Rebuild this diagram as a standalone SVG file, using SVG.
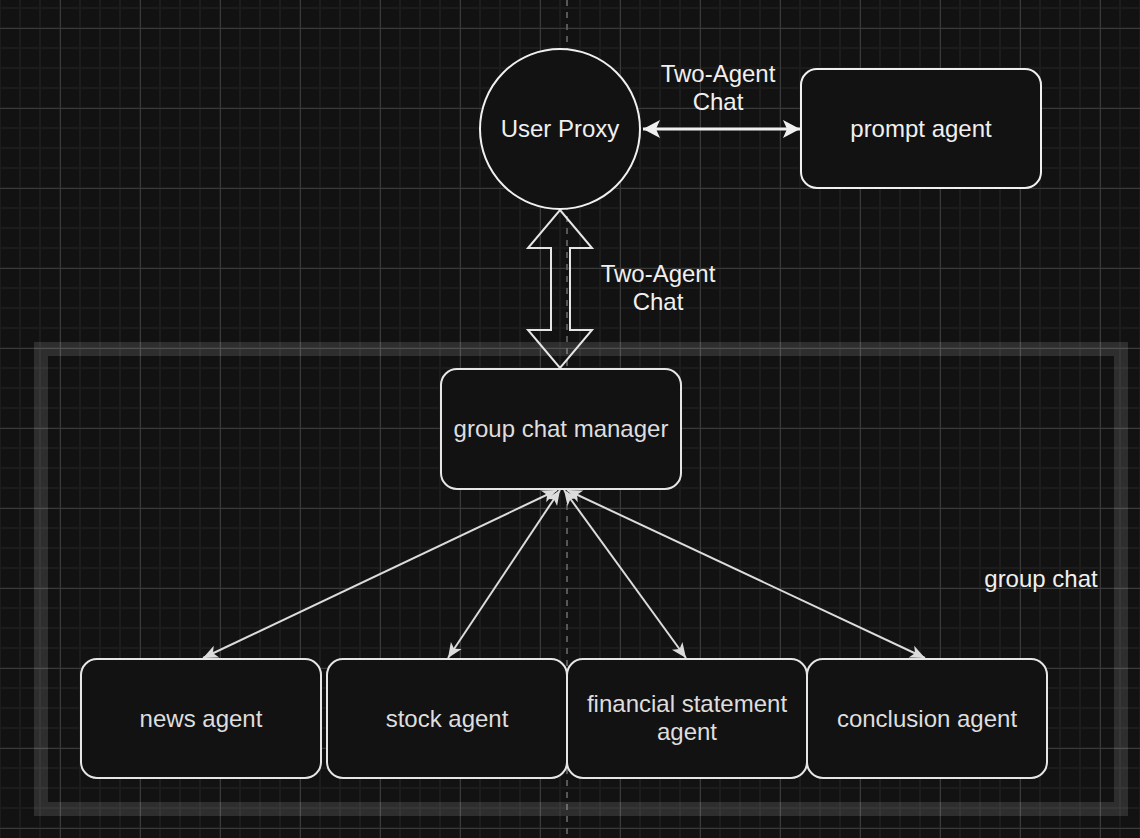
<svg xmlns="http://www.w3.org/2000/svg" width="1140" height="838" viewBox="0 0 1140 838">
<defs>
<pattern id="minor" patternUnits="userSpaceOnUse" x="-1" y="7" width="20" height="20">
<rect x="0" y="0" width="2" height="20" fill="#1c1c1c"/>
<rect x="0" y="0" width="20" height="2" fill="#1c1c1c"/>
</pattern>
<pattern id="major" patternUnits="userSpaceOnUse" x="60" y="28" width="80" height="80">
<path d="M0.5,0 V80 M0,0.5 H80" stroke="#3a3a3a" stroke-width="1" fill="none"/>
</pattern>
<marker id="ah" markerUnits="userSpaceOnUse" viewBox="-16 -8 17 16" markerWidth="17" markerHeight="16" refX="0" refY="0" orient="auto-start-reverse">
<path d="M0,0 L-15,-6.5 L-11,0 L-15,6.5 Z" fill="#dcdcdc"/>
</marker>
<marker id="ahBig" markerUnits="userSpaceOnUse" viewBox="-18 -10 19 20" markerWidth="19" markerHeight="20" refX="0" refY="0" orient="auto-start-reverse">
<path d="M0,0 L-17,-9 L-13,0 L-17,9 Z" fill="#f0f0f0"/>
</marker>
<style>
.node{fill:#121212;stroke:#e6e6e6;stroke-width:2}
.lbl{font-family:"Liberation Sans",Arial,Helvetica,sans-serif;font-size:24px;fill:#f0f0f0;text-anchor:middle}
.lbl2{font-family:"Liberation Sans",Arial,Helvetica,sans-serif;font-size:24px;fill:#dedede;text-anchor:middle}
.edge{stroke:#dcdcdc;stroke-width:2;fill:none;marker-start:url(#ah);marker-end:url(#ah)}
</style>
</defs>
<rect x="0" y="0" width="1140" height="838" fill="#121212"/>
<rect x="0" y="0" width="1140" height="838" fill="url(#minor)"/>
<rect x="0" y="0" width="1140" height="838" fill="url(#major)"/>
<line x1="567" y1="0" x2="567" y2="838" stroke="#575757" stroke-width="2" stroke-dasharray="6 6"/>

<g id="group-chat">
<rect x="41" y="349" width="1080" height="460" fill="none" stroke="#ffffff" stroke-opacity="0.12" stroke-width="14"/>
<text class="lbl" x="1041" y="587">group chat</text>
</g>

<g id="connectors">
<line x1="643" y1="129" x2="800" y2="129" stroke="#f0f0f0" stroke-width="3" marker-start="url(#ahBig)" marker-end="url(#ahBig)"/>
<text class="lbl" x="718" y="82">Two-Agent</text>
<text class="lbl" x="718" y="110">Chat</text>
<polygon points="560,210 592,248 570,248 570,330 592,330 560,368 528,330 551,330 551,248 528,248" fill="none" stroke="#e6e6e6" stroke-width="2" stroke-linejoin="miter"/>
<text class="lbl" x="658" y="282">Two-Agent</text>
<text class="lbl" x="658" y="310">Chat</text>
<line class="edge" x1="557" y1="490" x2="203" y2="658"/>
<line class="edge" x1="560" y1="490" x2="448" y2="658"/>
<line class="edge" x1="564" y1="490" x2="686" y2="658"/>
<line class="edge" x1="567" y1="490" x2="925" y2="658"/>
</g>

<g id="user-proxy">
<circle cx="560" cy="129" r="80" class="node" style="stroke:#f0f0f0"/>
<text class="lbl" x="560" y="137">User Proxy</text>
</g>
<g id="prompt-agent">
<rect x="801" y="69" width="240" height="119" rx="16" class="node" style="stroke:#f0f0f0"/>
<text class="lbl" x="921" y="137">prompt agent</text>
</g>
<g id="group-chat-manager">
<rect x="441" y="369" width="240" height="120" rx="16" class="node"/>
<text class="lbl2" x="561" y="437">group chat manager</text>
</g>
<g id="news-agent">
<rect x="81" y="659" width="240" height="119" rx="16" class="node"/>
<text class="lbl2" x="201" y="727">news agent</text>
</g>
<g id="stock-agent">
<rect x="327" y="659" width="240" height="119" rx="16" class="node"/>
<text class="lbl2" x="447" y="727">stock agent</text>
</g>
<g id="financial-statement-agent">
<rect x="567" y="659" width="240" height="119" rx="16" class="node"/>
<text class="lbl2" x="687" y="712">financial statement</text>
<text class="lbl2" x="687" y="740">agent</text>
</g>
<g id="conclusion-agent">
<rect x="807" y="659" width="240" height="119" rx="16" class="node"/>
<text class="lbl2" x="927" y="727">conclusion agent</text>
</g>
</svg>
